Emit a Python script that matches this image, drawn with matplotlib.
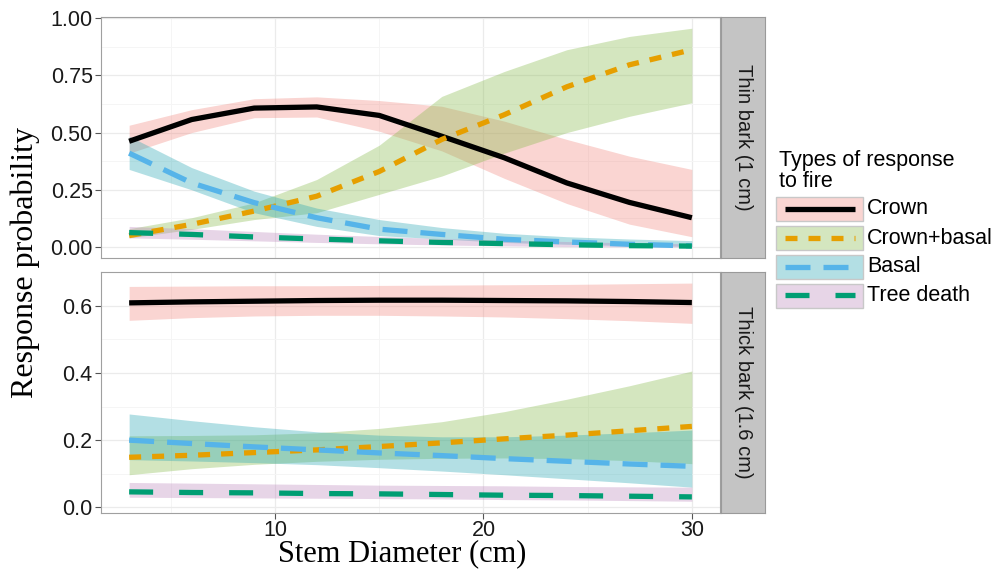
"""Fire response probabilities by stem diameter, thin vs thick bark."""
import matplotlib
matplotlib.use("Agg")
import matplotlib.pyplot as plt
from matplotlib.patches import Rectangle
from matplotlib.lines import Line2D
from matplotlib.ticker import MultipleLocator, FormatStrFormatter

plt.rcParams.update({
    "font.family": ["Liberation Sans", "DejaVu Sans"],
    "axes.edgecolor": "#a0a0a0",
    "axes.linewidth": 0.8,
})

# ----- data -----
diameter = [3, 6, 9, 12, 15, 18, 21, 24, 27, 30]

# thin bark (1 cm)
thin_crown = [0.462, 0.557, 0.607, 0.612, 0.575, 0.484, 0.390, 0.280, 0.195, 0.128]
thin_crown_lo = [0.410, 0.500, 0.565, 0.568, 0.506, 0.420, 0.300, 0.190, 0.100, 0.045]
thin_crown_hi = [0.532, 0.600, 0.648, 0.656, 0.640, 0.615, 0.550, 0.470, 0.397, 0.339]

thin_cb = [0.050, 0.099, 0.157, 0.222, 0.330, 0.470, 0.578, 0.700, 0.796, 0.862]
thin_cb_lo = [0.040, 0.077, 0.120, 0.150, 0.230, 0.310, 0.410, 0.500, 0.571, 0.630]
thin_cb_hi = [0.080, 0.128, 0.193, 0.295, 0.445, 0.658, 0.767, 0.862, 0.920, 0.956]

thin_basal = [0.410, 0.280, 0.194, 0.128, 0.078, 0.055, 0.034, 0.022, 0.012, 0.005]
thin_basal_lo = [0.339, 0.250, 0.150, 0.090, 0.050, 0.035, 0.020, 0.012, 0.006, 0.003]
thin_basal_hi = [0.484, 0.347, 0.244, 0.170, 0.120, 0.085, 0.060, 0.045, 0.035, 0.028]

thin_death = [0.063, 0.055, 0.044, 0.035, 0.027, 0.020, 0.015, 0.010, 0.006, 0.004]
thin_death_lo = [0.040, 0.034, 0.027, 0.020, 0.014, 0.009, 0.005, 0.002, 0.001, 0.000]
thin_death_hi = [0.090, 0.080, 0.068, 0.056, 0.046, 0.037, 0.030, 0.024, 0.018, 0.014]

# thick bark (1.6 cm)
thick_crown = [0.609, 0.612, 0.614, 0.616, 0.617, 0.617, 0.616, 0.615, 0.613, 0.610]
thick_crown_lo = [0.557, 0.565, 0.570, 0.572, 0.572, 0.570, 0.567, 0.562, 0.556, 0.548]
thick_crown_hi = [0.658, 0.659, 0.660, 0.660, 0.661, 0.662, 0.663, 0.664, 0.666, 0.668]

thick_cb = [0.149, 0.155, 0.163, 0.171, 0.181, 0.192, 0.204, 0.215, 0.228, 0.241]
thick_cb_lo = [0.097, 0.115, 0.128, 0.137, 0.143, 0.146, 0.147, 0.145, 0.139, 0.130]
thick_cb_hi = [0.213, 0.214, 0.216, 0.222, 0.235, 0.255, 0.285, 0.322, 0.362, 0.406]

thick_basal = [0.200, 0.190, 0.180, 0.171, 0.162, 0.154, 0.145, 0.137, 0.129, 0.122]
thick_basal_lo = [0.142, 0.138, 0.133, 0.127, 0.118, 0.108, 0.097, 0.085, 0.073, 0.060]
thick_basal_hi = [0.278, 0.258, 0.240, 0.225, 0.215, 0.210, 0.210, 0.215, 0.222, 0.230]

thick_death = [0.046, 0.044, 0.043, 0.041, 0.040, 0.038, 0.036, 0.035, 0.033, 0.031]
thick_death_lo = [0.030, 0.029, 0.028, 0.027, 0.026, 0.025, 0.023, 0.022, 0.020, 0.018]
thick_death_hi = [0.074, 0.072, 0.070, 0.068, 0.066, 0.065, 0.064, 0.062, 0.061, 0.060]

series_names = ["Crown", "Crown+basal", "Basal", "Tree death"]
line_colors = ["#000000", "#E69F00", "#56B4E9", "#009E73"]
fill_colors = ["#F1877E", "#84BA48", "#26A6B2", "#BD87BD"]
FILL_ALPHA = 0.35
# dash patterns in pixels (on, off)
dash_px = [None, (12, 11), (25, 13), (24, 26)]

panels = [
    ("Thin bark (1 cm)", [
        (thin_crown, thin_crown_lo, thin_crown_hi),
        (thin_cb, thin_cb_lo, thin_cb_hi),
        (thin_basal, thin_basal_lo, thin_basal_hi),
        (thin_death, thin_death_lo, thin_death_hi),
    ]),
    ("Thick bark (1.6 cm)", [
        (thick_crown, thick_crown_lo, thick_crown_hi),
        (thick_cb, thick_cb_lo, thick_cb_hi),
        (thick_basal, thick_basal_lo, thick_basal_hi),
        (thick_death, thick_death_lo, thick_death_hi),
    ]),
]

W, H = 995, 570
fig = plt.figure(figsize=(W / 100, H / 100), dpi=100)
LW = 3.8
LW_PX = LW * 100 / 72


def box(x0, y0, x1, y1):
    # pixel box -> figure fraction rect
    return [x0 / W, 1 - y1 / H, (x1 - x0) / W, (y1 - y0) / H]


def style_line(ln, d):
    if d is not None:
        ln.set_dashes((d[0] / LW_PX, d[1] / LW_PX))


panel_px = [(101, 17, 720, 258), (101, 272, 720, 513)]
ylims = [(-0.048, 1.005), (-0.017, 0.701)]
ymajor = [0.25, 0.2]
yfmt = ["%.2f", "%.1f"]
TICK_FS = 15.5

for i, ((strip_label, series), px) in enumerate(zip(panels, panel_px)):
    ax = fig.add_axes(box(*px))
    for (mean, lo, hi), fc in zip(series, fill_colors):
        ax.fill_between(diameter, lo, hi, color=fc, alpha=FILL_ALPHA, linewidth=0, zorder=2)
    for (mean, lo, hi), lc, d in zip(series, line_colors, dash_px):
        ln, = ax.plot(diameter, mean, color=lc, lw=LW, zorder=3, solid_capstyle="butt",
                      dash_capstyle="butt")
        style_line(ln, d)
    ax.set_xlim(1.65, 31.35)
    ax.set_ylim(*ylims[i])
    ax.xaxis.set_major_locator(MultipleLocator(10))
    ax.xaxis.set_minor_locator(MultipleLocator(5))
    ax.yaxis.set_major_locator(MultipleLocator(ymajor[i]))
    ax.yaxis.set_minor_locator(MultipleLocator(ymajor[i] / 2))
    ax.yaxis.set_major_formatter(FormatStrFormatter(yfmt[i]))
    ax.grid(which="major", color="#ebebeb", lw=0.9)
    ax.grid(which="minor", color="#f5f5f5", lw=0.7)
    ax.set_axisbelow(True)
    ax.tick_params(axis="y", which="major", length=4, color="#555", labelsize=TICK_FS,
                   labelcolor="#1a1a1a", pad=2)
    ax.tick_params(which="minor", length=0)
    if i == 0:
        ax.tick_params(axis="x", which="major", length=0, labelbottom=False)
    else:
        ax.tick_params(axis="x", which="major", length=4, color="#555", labelsize=TICK_FS,
                       labelcolor="#1a1a1a", pad=1)

    sx = fig.add_axes(box(721, px[1], 765, px[3]))
    sx.set_facecolor("#c4c4c4")
    sx.set_xticks([])
    sx.set_yticks([])
    for s in sx.spines.values():
        s.set_color("#9a9a9a")
    sx.text(0.5, 0.5, strip_label, rotation=-90, ha="center", va="center",
            fontsize=14.5, color="#1a1a1a", transform=sx.transAxes)

fig.text(25 / W, 1 - 262 / H, "Response probability", rotation=90, ha="center",
         va="center", fontsize=23, family="Liberation Serif")
fig.text(402 / W, 2 / H, "Stem Diameter (cm)", ha="center", va="bottom",
         fontsize=22, family="Liberation Serif")

# ----- legend, drawn by hand in pixel coords -----
fig.text(779 / W, 1 - 150 / H, "Types of response\nto fire", ha="left", va="top",
         fontsize=15.5, linespacing=1.0)
key_top = [197, 226, 254.5, 283.5]
for top, name, lc, fc, d in zip(key_top, series_names, line_colors, fill_colors, dash_px):
    fig.add_artist(Rectangle((776 / W, 1 - (top + 24) / H), 87 / W, 24 / H,
                             transform=fig.transFigure, facecolor=fc, alpha=FILL_ALPHA,
                             edgecolor="none"))
    fig.add_artist(Rectangle((776 / W, 1 - (top + 24) / H), 87 / W, 24 / H,
                             transform=fig.transFigure, facecolor="none",
                             edgecolor="#c8c8c8", lw=1.0))
    yc = 1 - (top + 12) / H
    ln = Line2D([785 / W, 855 / W], [yc, yc], transform=fig.transFigure, color=lc,
                lw=LW, solid_capstyle="butt", dash_capstyle="butt")
    style_line(ln, d)
    fig.add_artist(ln)
    fig.text(867 / W, yc, name, ha="left", va="center", fontsize=15.5)

fig.savefig("out.png", dpi=100)
